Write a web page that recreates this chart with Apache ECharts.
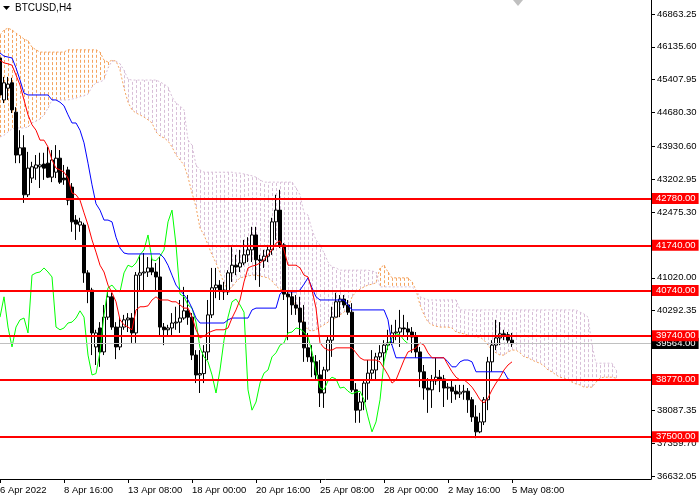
<!DOCTYPE html>
<html>
<head>
	<meta charset="utf-8"/>
	<title>BTCUSD,H4</title>
	<style>
		* {
			margin: 0;
			padding: 0;
		}
		html, body {
			width: 100%;
			height: 100%;
			background: #fff;
		}
		.main {
			width: 700px;
			height: 500px;
		}
	</style>
</head>
<body>

	<div id="main" class="main"></div>

	<script src="https://cdn.jsdelivr.net/npm/echarts@6/dist/echarts.min.js"></script>
	<script>
		var FONT = "'Liberation Sans', Arial, sans-serif";
		var FONT_SIZE = 9.5;

		// time axis: one unit per H4 bar, a label every 16 bars
		var timeTicks = [0, 16, 32, 48, 64, 80, 96, 112, 128];
		var timeLabels = ['6 Apr 2022', '8 Apr 16:00', '13 Apr 08:00', '18 Apr 00:00', '20 Apr 16:00',
			'25 Apr 08:00', '28 Apr 00:00', '2 May 16:00', '5 May 08:00'];

		var priceTicks = [46863.25, 46135.60, 45407.95, 44680.30, 43930.60, 43202.95, 42475.30,
			41020.00, 40292.35, 38087.35, 37359.70, 36632.05];

		// support / resistance levels and the last price
		var levels = [42780, 41740, 40740, 39740, 38770, 37500];
		var lastPrice = 39564;

		// candles: [open, close, low, high]
		var candles = [
			[45890, 45070, 44140, 46020], [44960, 45340, 44890, 45470], [45220, 45310, 44960, 45470], [45340, 44740, 44670, 45450],
			[44690, 43740, 43560, 44800], [43740, 43900, 43560, 44290], [43900, 42860, 42680, 44180], [42860, 43450, 42810, 43810],
			[43230, 43480, 43120, 43590], [43450, 43520, 43190, 43740], [43480, 43520, 43010, 43790], [43540, 43450, 43190, 43790],
			[43560, 43250, 43230, 43920], [43250, 43630, 43140, 43850], [43360, 43670, 43230, 43960], [43670, 43140, 43100, 43850],
			[43230, 43190, 43080, 43520], [43410, 42740, 42630, 43480], [43030, 42260, 42040, 43120], [42300, 42210, 41860, 42410],
			[42190, 42260, 42040, 42350], [42190, 41130, 40910, 42240], [41130, 40750, 40460, 41190], [40750, 39800, 39310, 40800],
			[39490, 39800, 39090, 39870], [39910, 39380, 39050, 40040], [39380, 40150, 39310, 40420], [40150, 40600, 40090, 40750],
			[40600, 39930, 39870, 40690], [39930, 39490, 39220, 40040], [39490, 39930, 39420, 40130], [39930, 40090, 39870, 40200],
			[40090, 40130, 39820, 40240], [40130, 39800, 39580, 40240], [39800, 41080, 39580, 41150], [41080, 41130, 40750, 41530],
			[41130, 41150, 40750, 41570], [41150, 41240, 41040, 41480], [41240, 41150, 41080, 41480], [41150, 41040, 40750, 41350],
			[41040, 39930, 39710, 41480], [39930, 39870, 39530, 40020], [39870, 39910, 39750, 39980], [39910, 40020, 39710, 40240],
			[40020, 40040, 39870, 40380], [40040, 40130, 39800, 40530], [40130, 40290, 40090, 40820], [40290, 40150, 39980, 40640],
			[40150, 39310, 39200, 40240], [39310, 38870, 38690, 39420], [38870, 38900, 38470, 39420], [38900, 39380, 38690, 39530],
			[39380, 40200, 39200, 40530], [40200, 40800, 40130, 41240], [40800, 40860, 40570, 41240], [40860, 40750, 40530, 40970],
			[40750, 40710, 40530, 40930], [40710, 41130, 40640, 41190], [41130, 41300, 40930, 41700], [41300, 41260, 41080, 41530],
			[41260, 41350, 41150, 41640], [41350, 41530, 41300, 41860], [41530, 41640, 41370, 41920], [41640, 41970, 41370, 42150],
			[41970, 41420, 40970, 42150], [41420, 41400, 40820, 41530], [41400, 41500, 41240, 41640], [41500, 41640, 41370, 41750],
			[41640, 42260, 41530, 42350], [42260, 42520, 41860, 42860], [42520, 41750, 41680, 42970], [41750, 40660, 40530, 41790],
			[40660, 40600, 39640, 40750], [40600, 40420, 40200, 40750], [40420, 40350, 40200, 40640], [40350, 40040, 39750, 40600],
			[40040, 39470, 39160, 40420], [39470, 39270, 39160, 39800], [39270, 39160, 38820, 39530], [39160, 38870, 38760, 39310],
			[38870, 38470, 38160, 39200], [38470, 38980, 38140, 39050], [38980, 39640, 38940, 39710], [39640, 40150, 39270, 40380],
			[40150, 40490, 40150, 40690], [40490, 40550, 40150, 40640], [40550, 40420, 40350, 40640], [40420, 40260, 40200, 40530],
			[40260, 38540, 38490, 40460], [38540, 38090, 37810, 38690], [38090, 38270, 37810, 38470], [38270, 38690, 38090, 38760],
			[38690, 38910, 38320, 39200], [38910, 38980, 38760, 39420], [38980, 39270, 38760, 39360], [39270, 39360, 39200, 39530],
			[39360, 39530, 39090, 39640], [39530, 39580, 39420, 39870], [39580, 39800, 39530, 39980], [39800, 39820, 39640, 40090],
			[39820, 39910, 39490, 40310], [39910, 39890, 39750, 40200], [39890, 39820, 39640, 40040], [39820, 39710, 39360, 39930],
			[39710, 39380, 39250, 39820], [39380, 38940, 38600, 39490], [38940, 38580, 38320, 39090], [38580, 38540, 38030, 38800],
			[38540, 38740, 38140, 38870], [38740, 38820, 38650, 39250], [38820, 38780, 38490, 38980], [38780, 38580, 38160, 38870],
			[38580, 38600, 38320, 38690], [38600, 38510, 38250, 38740], [38510, 38450, 38320, 38650], [38450, 38490, 38360, 38650],
			[38490, 38510, 38320, 38650], [38510, 38320, 38030, 38580], [38320, 37940, 37830, 38380], [37940, 37610, 37470, 38200],
			[37610, 37830, 37580, 38030], [37830, 38320, 37760, 38380], [38320, 39160, 38090, 39270], [39160, 39530, 38940, 39640],
			[39530, 39690, 39420, 40090], [39690, 39780, 39530, 40040], [39780, 39760, 39640, 39870], [39760, 39640, 39580, 39820],
			[39640, 39564, 39490, 39800]
		];

		// Ichimoku lines
		var tenkan = [
			45840, 45780, 45760, 45730, 45510, 45290, 44960, 44630, 44410, 44290,
			44070, 44070, 43920, 43630, 43450, 43410, 43360, 43230, 42900, 42860,
			42740, 42460, 42190, 41860, 41590, 41300, 41150, 40860, 40690, 40490,
			40090, 39980, 39930, 39870, 40310, 40380, 40380, 40400, 40530, 40600,
			40530, 40530, 40530, 40490, 40490, 40420, 40350, 40350, 40150, 39870,
			39690, 39730, 39800, 39840, 39870, 39870, 39870, 39910, 40130, 40310,
			40530, 40930, 41240, 41280, 41300, 41350, 41420, 41530, 41640, 41790,
			41840, 41640, 41300, 41300, 41300, 41240, 41080, 41040, 40750, 40350,
			39580, 39470, 39420, 39420, 39470, 39470, 39470, 39470, 39470, 39360,
			39250, 39200, 39200, 39200, 39200, 39160, 39020, 38870, 38690, 38760,
			38980, 39200, 39380, 39420, 39470, 39580, 39530, 39360, 39250, 39250,
			39250, 39250, 39090, 38940, 38820, 38760, 38760, 38690, 38600, 38470,
			38320, 38250, 38360, 38540, 38690, 38820, 38980, 39090, 39160
		];
		var kijun = [
			46000, 45930, 45910, 45890, 45670, 45400, 45110, 45070, 45070, 45070,
			45070, 45070, 45070, 44960, 44960, 44910, 44830, 44630, 44450, 44450,
			44290, 44010, 43560, 43080, 42660, 42520, 42300, 42300, 42260, 41920,
			41680, 41570, 41550, 41550, 41550, 41550, 41550, 41550, 41550, 41550,
			41550, 41460, 41300, 41080, 40860, 40750, 40640, 40530, 40350, 40130,
			40020, 40020, 40020, 40020, 40020, 40020, 40020, 40090, 40130, 40130,
			40130, 40130, 40130, 40310, 40350, 40350, 40350, 40350, 40350, 40350,
			40660, 40750, 40710, 40710, 40710, 40750, 40880, 41020, 40800, 40600,
			40530, 40530, 40530, 40530, 40530, 40530, 40530, 40420, 40310, 40310,
			40310, 40310, 40310, 40310, 40310, 40310, 40310, 40090, 39530, 39250,
			39250, 39250, 39250, 39250, 39250, 39250, 39250, 39250, 39250, 39250,
			39250, 39250, 39160, 39050, 39050, 39160, 39200, 39200, 39160, 38940,
			38940, 38940, 38940, 38940, 38940, 38940, 38940, 38780, 38760
		];
		var spanA = [
			46400, 46510, 46550, 46510, 46440, 46380, 46310, 46270, 46130, 46070,
			46020, 46020, 46020, 46020, 46020, 46020, 46020, 46070, 46070, 46070,
			46070, 46070, 46070, 46070, 46070, 46020, 45840, 45800, 45840, 45820,
			45620, 45220, 44910, 44740, 44670, 44630, 44580, 44520, 44450, 44250,
			44160, 44120, 44050, 43920, 43740, 43630, 43520, 43250, 42900, 42590,
			42120, 41970, 41750, 41530, 41350, 41130, 40910, 40750, 40820, 40930,
			41020, 41040, 41060, 41080, 41080, 41060, 41040, 41020, 40950, 40840,
			40770, 40750, 40640, 40530, 40420, 40200, 39980, 39870, 39840, 39870,
			39930, 39980, 40040, 40090, 40130, 40200, 40260, 40350, 40600, 40710,
			40770, 40820, 40860, 40880, 40910, 41240, 41300, 41150, 41020, 41020,
			41020, 41020, 41020, 40930, 40750, 40420, 40200, 40040, 39980, 39950,
			39930, 39930, 39930, 39910, 39820, 39800, 39780, 39750, 39730, 39710,
			39710, 39640, 39530, 39420, 39360, 39310, 39310, 39380, 39420, 39420,
			39360, 39270, 39250, 39200, 39160, 39130, 39070, 38980, 38940, 38870,
			38820, 38800, 38760, 38710, 38670, 38650, 38600, 38600, 38600, 38710,
			38800, 38820, 38820, 38820, 38800
		];
		var spanB = [
			44140, 44180, 44250, 44320, 44340, 44340, 44340, 44360, 44450, 44490,
			44540, 44630, 44780, 44960, 44960, 44960, 44960, 44960, 44980, 45000,
			45030, 45050, 45090, 45250, 45340, 45360, 45400, 45670, 45820, 45820,
			45760, 45620, 45420, 45400, 45400, 45400, 45400, 45400, 45400, 45400,
			45360, 45310, 45250, 45030, 44890, 44830, 44740, 44070, 43960, 43520,
			43410, 43360, 43360, 43360, 43360, 43360, 43360, 43360, 43360, 43340,
			43340, 43320, 43300, 43280, 43250, 43190, 43140, 43140, 43140, 43140,
			43140, 43140, 43140, 43140, 43010, 42860, 42460, 42410, 42080, 41860,
			41750, 41570, 41370, 41260, 41240, 41190, 41190, 41190, 41190, 41190,
			41190, 41190, 41190, 41170, 41150, 40820, 40820, 40820, 40820, 40820,
			40820, 40820, 40820, 40820, 40750, 40600, 40570, 40530, 40530, 40530,
			40530, 40530, 40530, 40530, 40530, 40310, 40310, 40310, 40310, 40310,
			40310, 40310, 40310, 40310, 40310, 40310, 40310, 40310, 40310, 40310,
			40310, 40310, 40310, 40310, 40310, 40310, 40310, 40310, 40310, 40310,
			40310, 40310, 40310, 40310, 40310, 40260, 40220, 40150, 39530, 39130,
			39130, 39130, 39130, 39130, 38980
		];
		var chikouShift = 26;

		var myChart = echarts.init(document.getElementById('main'));

		function indexed(arr) {
			return arr.map(function (v, i) { return [i, v]; });
		}

		var candleData = candles.map(function (c, i) { return [i, c[0], c[1], c[2], c[3]]; });
		var cloudData = spanA.map(function (a, i) { return [i, a, spanB[i]]; });
		var chikouData = [];
		for (var j = 0; j + chikouShift < candles.length; j++) {
			chikouData.push([j, candles[j + chikouShift][1]]);
		}

		var labelBox = {
			show: true,
			position: 'end',
			distance: 1,
			color: '#fff',
			fontFamily: FONT,
			fontSize: FONT_SIZE,
			lineHeight: 11,
			padding: [0, 3, 0, 4],
			formatter: function (p) { return p.value.toFixed(2); }
		};

		var option = {
			animation: false,
			textStyle: { fontFamily: FONT },
			grid: { left: 0, right: 49, top: 0, bottom: 21, containLabel: false, outerBoundsMode: 'none' },
			xAxis: {
				type: 'value',
				min: 0,
				max: 162.75,
				axisLine: { show: true, onZero: false, lineStyle: { color: '#000', width: 1 } },
				axisTick: { show: true, length: 4, customValues: timeTicks, lineStyle: { color: '#000' } },
				axisLabel: {
					customValues: timeTicks,
					align: 'left',
					margin: 6,
					color: '#000',
					fontSize: FONT_SIZE,
					fontFamily: FONT,
					formatter: function (v) { return timeLabels[timeTicks.indexOf(v)] || ''; }
				},
				splitLine: { show: false }
			},
			yAxis: {
				type: 'value',
				position: 'right',
				min: 36565.6,
				max: 47173.3,
				axisLine: { show: true, onZero: false, lineStyle: { color: '#000', width: 1 } },
				axisTick: { show: true, length: 4, customValues: priceTicks, lineStyle: { color: '#000' } },
				axisLabel: {
					customValues: priceTicks,
					align: 'left',
					margin: 6,
					color: '#000',
					fontSize: FONT_SIZE,
					fontFamily: FONT,
					formatter: function (v) { return v.toFixed(2); }
				},
				splitLine: { show: false }
			},
			series: [
				{
					// kumo hatching: one dotted stroke per bar from span A to span B
					type: 'custom',
					name: 'cloud',
					data: cloudData,
					encode: { x: 0, y: [1, 2] },
					clip: true,
					silent: true,
					z: 1,
					renderItem: function (params, api) {
						var a = api.value(1), b = api.value(2);
						var p1 = api.coord([api.value(0), a]);
						var p2 = api.coord([api.value(0), b]);
						var x = Math.round(p1[0]) + 0.5;
						return {
							type: 'line',
							shape: { x1: x, y1: p1[1], x2: x, y2: p2[1] },
							style: { stroke: a >= b ? '#F4A460' : '#D8BFD8', lineWidth: 1, lineDash: [3, 2] }
						};
					}
				},
				{
					type: 'line', name: 'Senkou A', data: indexed(spanA), showSymbol: false, silent: true, z: 1,
					lineStyle: { color: '#F4A460', width: 1, type: [2, 2] }
				},
				{
					type: 'line', name: 'Senkou B', data: indexed(spanB), showSymbol: false, silent: true, z: 1,
					lineStyle: { color: '#D8BFD8', width: 1, type: [2, 2] }
				},
				{
					type: 'candlestick',
					name: 'BTCUSD',
					data: candleData,
					encode: { x: 0, y: [1, 2, 3, 4] },
					barWidth: 3,
					z: 3,
					itemStyle: {
						color: '#fff',
						color0: '#000',
						borderColor: '#000',
						borderColor0: '#000',
						borderWidth: 1
					}
				},
				{
					type: 'line', name: 'Chikou', data: chikouData, showSymbol: false, silent: true, z: 4,
					lineStyle: { color: '#00ff00', width: 1 }
				},
				{
					type: 'line', name: 'Kijun', data: indexed(kijun), showSymbol: false, silent: true, z: 4,
					lineStyle: { color: '#0000ff', width: 1 }
				},
				{
					type: 'line', name: 'Tenkan', data: indexed(tenkan), showSymbol: false, silent: true, z: 4,
					lineStyle: { color: '#ff0000', width: 1 }
				},
				{
					// last price line with its black tag
					type: 'line', name: 'last', data: [], z: 5,
					markLine: {
						silent: true,
						symbol: ['none', 'none'],
						lineStyle: { color: '#c0c0c0', width: 1, type: 'solid' },
						label: Object.assign({}, labelBox, { backgroundColor: '#000' }),
						data: [{ yAxis: lastPrice }]
					}
				},
				{
					// horizontal levels with red tags on the price scale
					type: 'line', name: 'levels', data: [], z: 6,
					markLine: {
						silent: true,
						symbol: ['none', 'none'],
						lineStyle: { color: '#ff0000', width: 2, type: 'solid' },
						label: Object.assign({}, labelBox, { backgroundColor: '#ff0000' }),
						data: levels.map(function (v) { return { yAxis: v }; })
					}
				}
			]
		};

		myChart.setOption(option);

		// header text and the chart-shift marker
		var shiftX = myChart.convertToPixel({ xAxisIndex: 0 }, candles.length - 1 + 1.5);
		myChart.setOption({
			graphic: [
				{
					type: 'polygon',
					shape: { points: [[3, 6], [10, 6], [6.5, 10]] },
					style: { fill: '#000' }
				},
				{
					type: 'text',
					left: 15,
					top: 3,
					style: { text: 'BTCUSD,H4', fill: '#000', font: '10px ' + FONT }
				},
				{
					type: 'polygon',
					shape: { points: [[shiftX - 5, 0], [shiftX + 5, 0], [shiftX, 6]] },
					style: { fill: '#c0c0c0' }
				}
			]
		});
	</script>
</body>
</html>
